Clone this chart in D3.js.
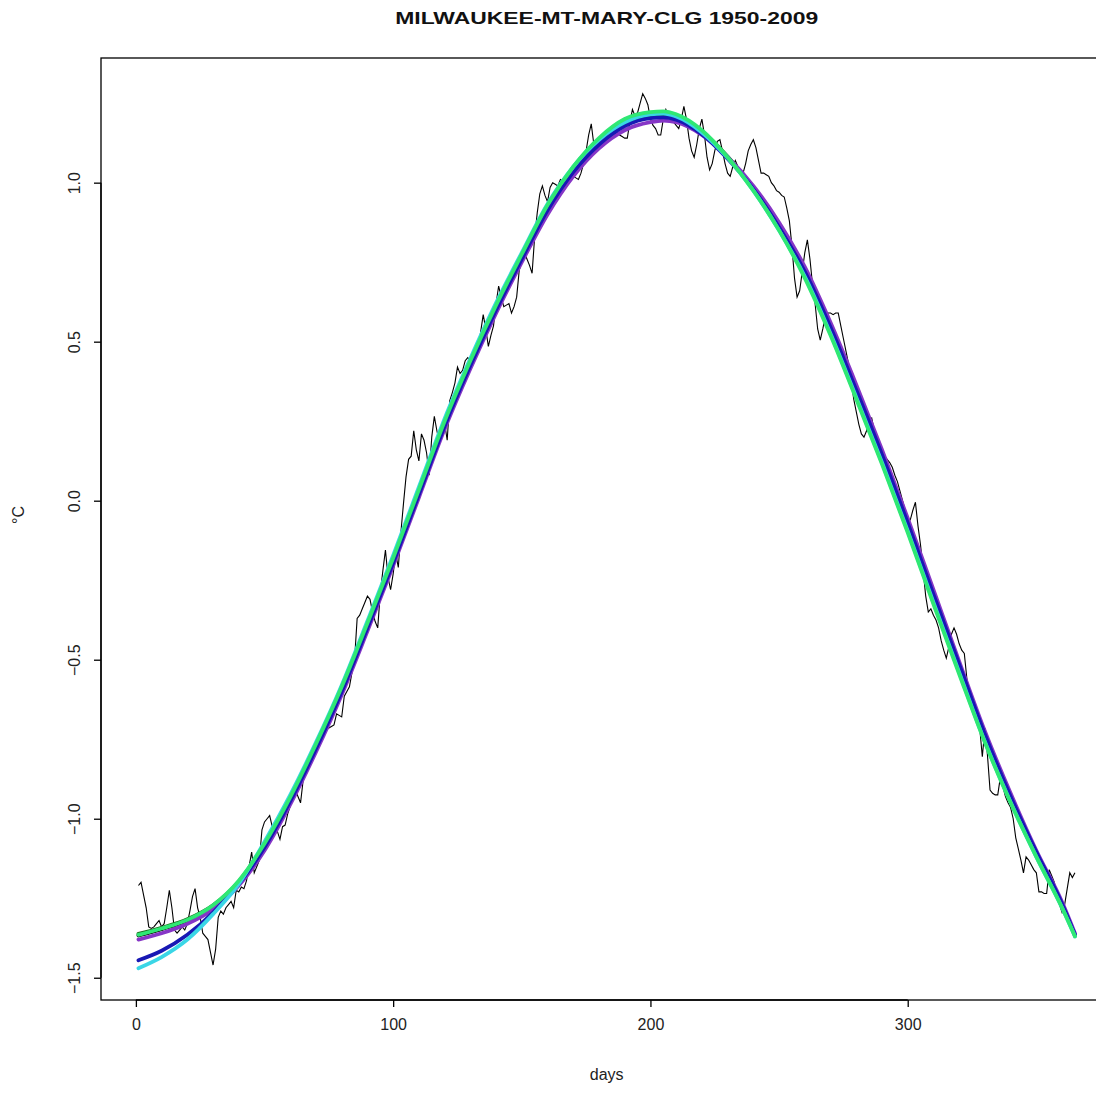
<!DOCTYPE html>
<html>
<head>
<meta charset="utf-8">
<script src="https://cdn.jsdelivr.net/npm/d3@7"></script>
<style>
  html, body { margin: 0; padding: 0; background: #fff; }
  svg { display: block; font-family: "Liberation Sans", Arial, sans-serif; }
</style>
</head>
<body>
<svg id="chart" width="1096" height="1096"></svg>
<script>
// ---------------- data ----------------
const title = "MILWAUKEE-MT-MARY-CLG 1950-2009";
const xLabel = "days";
const yLabel = "°C";
const xTicks = [0, 100, 200, 300];
const yTicks = [-1.5, -1.0, -0.5, 0.0, 0.5, 1.0];

// daily (noisy) series, day 1..365
const noisyValues = [
  -1.21,-1.20,-1.24,-1.28,-1.34,-1.345,-1.34,-1.33,-1.32,-1.34,
  -1.33,-1.28,-1.225,-1.28,-1.35,-1.36,-1.35,-1.34,-1.35,-1.33,
  -1.29,-1.245,-1.22,-1.28,-1.31,-1.36,-1.37,-1.38,-1.42,-1.46,
  -1.41,-1.31,-1.29,-1.30,-1.28,-1.27,-1.26,-1.28,-1.225,-1.23,
  -1.215,-1.22,-1.195,-1.15,-1.105,-1.17,-1.15,-1.13,-1.035,-1.01,
  -1.00,-0.99,-1.025,-1.03,-1.04,-1.065,-1.025,-1.02,-0.985,-0.96,
  -0.93,-0.91,-0.93,-0.95,-0.88,-0.86,-0.835,-0.82,-0.805,-0.79,
  -0.77,-0.755,-0.73,-0.72,-0.715,-0.71,-0.705,-0.67,-0.675,-0.68,
  -0.615,-0.60,-0.585,-0.54,-0.50,-0.37,-0.36,-0.34,-0.32,-0.30,
  -0.31,-0.35,-0.38,-0.40,-0.29,-0.22,-0.155,-0.24,-0.28,-0.23,
  -0.165,-0.21,-0.10,-0.01,0.075,0.13,0.14,0.22,0.16,0.125,
  0.21,0.19,0.15,0.08,0.20,0.265,0.22,0.18,0.22,0.245,
  0.19,0.315,0.34,0.37,0.42,0.40,0.41,0.44,0.45,0.44,
  0.43,0.45,0.48,0.53,0.585,0.54,0.485,0.52,0.55,0.62,
  0.675,0.64,0.61,0.615,0.62,0.59,0.61,0.64,0.725,0.75,
  0.78,0.76,0.74,0.715,0.83,0.905,0.965,0.99,0.96,0.94,
  0.985,1.00,0.995,0.99,1.01,1.005,1.0,1.01,1.02,1.02,
  1.015,1.01,1.03,1.06,1.10,1.15,1.185,1.12,1.13,1.13,
  1.135,1.14,1.13,1.14,1.145,1.15,1.16,1.15,1.145,1.14,
  1.14,1.19,1.23,1.21,1.22,1.25,1.28,1.265,1.245,1.20,
  1.18,1.17,1.15,1.15,1.20,1.23,1.21,1.20,1.19,1.18,
  1.17,1.20,1.24,1.20,1.14,1.10,1.08,1.12,1.17,1.20,
  1.15,1.08,1.04,1.06,1.10,1.13,1.135,1.10,1.06,1.03,
  1.02,1.05,1.07,1.05,1.03,1.03,1.06,1.10,1.12,1.135,
  1.11,1.07,1.03,1.03,1.025,1.02,1.00,0.99,0.975,0.97,
  0.96,0.955,0.92,0.88,0.80,0.70,0.64,0.66,0.72,0.78,
  0.82,0.76,0.68,0.62,0.54,0.505,0.54,0.58,0.59,0.59,
  0.585,0.59,0.59,0.55,0.51,0.47,0.43,0.38,0.32,0.28,
  0.24,0.21,0.20,0.22,0.25,0.26,0.22,0.18,0.17,0.16,
  0.14,0.13,0.12,0.105,0.08,0.06,0.03,0.0,-0.03,-0.07,
  -0.06,-0.03,-0.005,-0.08,-0.14,-0.22,-0.30,-0.35,-0.34,-0.36,
  -0.375,-0.40,-0.44,-0.47,-0.495,-0.46,-0.42,-0.40,-0.42,-0.45,
  -0.47,-0.48,-0.56,-0.60,-0.64,-0.67,-0.70,-0.715,-0.805,-0.715,
  -0.80,-0.91,-0.92,-0.925,-0.925,-0.87,-0.90,-0.93,-0.95,-0.965,
  -1.0,-1.06,-1.095,-1.13,-1.17,-1.12,-1.13,-1.145,-1.16,-1.17,
  -1.23,-1.23,-1.235,-1.235,-1.16,-1.18,-1.20,-1.24,-1.27,-1.295,
  -1.27,-1.22,-1.17,-1.185,-1.17
];
const noisyDays = noisyValues.map((v, i) => i + 1);

// smooth fitted curves, sampled at these days
const curveDays = [1,10,20,30,40,50,60,70,80,90,100,110,120,130,140,150,160,170,180,190,200,205,210,220,230,240,250,260,270,280,290,300,310,320,330,340,350,360,365];

const fitBlack = [-1.367,-1.347,-1.32,-1.275,-1.2,-1.085,-0.94,-0.775,-0.595,-0.395,-0.19,0.025,0.24,0.43,0.605,0.765,0.918,1.038,1.125,1.183,1.207,1.21,1.203,1.157,1.08,0.983,0.865,0.725,0.55,0.35,0.148,-0.068,-0.293,-0.515,-0.735,-0.93,-1.108,-1.27,-1.366];
const fitDarkGreen = [-1.362,-1.343,-1.316,-1.272,-1.197,-1.082,-0.937,-0.772,-0.592,-0.392,-0.187,0.028,0.243,0.433,0.608,0.768,0.922,1.042,1.13,1.19,1.215,1.218,1.21,1.162,1.082,0.983,0.862,0.72,0.543,0.343,0.14,-0.075,-0.3,-0.522,-0.742,-0.935,-1.11,-1.272,-1.367];
const fitPurple = [-1.38,-1.36,-1.33,-1.285,-1.21,-1.1,-0.955,-0.79,-0.61,-0.41,-0.205,0.01,0.225,0.415,0.59,0.75,0.9,1.02,1.108,1.165,1.19,1.195,1.19,1.15,1.08,0.99,0.875,0.735,0.56,0.365,0.16,-0.055,-0.28,-0.505,-0.725,-0.92,-1.1,-1.262,-1.36];
const fitBlue = [-1.445,-1.415,-1.365,-1.295,-1.205,-1.09,-0.945,-0.78,-0.6,-0.4,-0.195,0.02,0.235,0.425,0.6,0.76,0.913,1.033,1.12,1.178,1.203,1.205,1.198,1.152,1.075,0.98,0.86,0.72,0.545,0.348,0.145,-0.07,-0.295,-0.515,-0.735,-0.93,-1.105,-1.268,-1.365];
const fitCyan = [-1.47,-1.435,-1.38,-1.30,-1.205,-1.072,-0.925,-0.76,-0.58,-0.378,-0.172,0.043,0.258,0.447,0.622,0.78,0.933,1.05,1.135,1.19,1.215,1.217,1.208,1.158,1.078,0.975,0.85,0.705,0.525,0.325,0.12,-0.095,-0.32,-0.54,-0.758,-0.948,-1.12,-1.28,-1.37];
const fitGreen = [-1.365,-1.345,-1.318,-1.272,-1.195,-1.078,-0.932,-0.765,-0.585,-0.385,-0.18,0.035,0.25,0.44,0.615,0.775,0.93,1.05,1.14,1.2,1.222,1.224,1.215,1.165,1.08,0.975,0.85,0.70,0.52,0.32,0.115,-0.10,-0.325,-0.545,-0.76,-0.95,-1.12,-1.28,-1.37];

const fitSeries = [
  { values: fitBlack,     color: "#000000" },
  { values: fitDarkGreen, color: "#1e6e1e" },
  { values: fitPurple,    color: "#8636c6" },
  { values: fitBlue,      color: "#1818b4" },
  { values: fitCyan,      color: "#3ad6e6" },
  { values: fitGreen,     color: "#2fe874" }
];

// ---------------- layout ----------------
const svg = d3.select("#chart");
const box = { left: 101, right: 1112.4, top: 58, bottom: 1000 };

const x = d3.scaleLinear().domain([-13.56, 379.56]).range([box.left, box.right]);
const y = d3.scaleLinear().domain([-1.57, 1.392]).range([box.bottom, box.top]);

// clip for the plot region
svg.append("defs").append("clipPath").attr("id", "plotclip")
  .append("rect").attr("x", box.left).attr("y", box.top)
  .attr("width", box.right - box.left).attr("height", box.bottom - box.top);

const plot = svg.append("g").attr("clip-path", "url(#plotclip)");

// noisy daily line
const noisyLine = d3.line().x((d, i) => x(noisyDays[i])).y(d => y(d));
plot.append("path")
  .datum(noisyValues)
  .attr("d", noisyLine)
  .attr("fill", "none")
  .attr("stroke", "#000")
  .attr("stroke-width", 1.1)
  .attr("stroke-linejoin", "miter");

// fitted curves
const fitLine = d3.line().x((d, i) => x(curveDays[i])).y(d => y(d)).curve(d3.curveMonotoneX);
fitSeries.forEach(s => {
  plot.append("path")
    .datum(s.values)
    .attr("d", fitLine)
    .attr("fill", "none")
    .attr("stroke", s.color)
    .attr("stroke-width", 3.8)
    .attr("stroke-linecap", "round");
});

// box
svg.append("rect")
  .attr("x", box.left).attr("y", box.top)
  .attr("width", box.right - box.left).attr("height", box.bottom - box.top)
  .attr("fill", "none").attr("stroke", "#000").attr("stroke-width", 1.3);

// x axis
const xAxis = d3.axisBottom(x).tickValues(xTicks).tickSize(7).tickPadding(12).tickFormat(d3.format("d"));
const gx = svg.append("g").attr("transform", `translate(0,${box.bottom})`).call(xAxis);
gx.select(".domain").attr("d", `M${x(xTicks[0])},0H${x(xTicks[xTicks.length-1])}`).attr("stroke-width", 1.3);
gx.selectAll(".tick line").attr("stroke-width", 1.3);
gx.selectAll(".tick text").attr("font-size", 16).attr("fill", "#222")
  .attr("font-family", "Liberation Sans, Arial, sans-serif");

// y axis
const yAxis = d3.axisLeft(y).tickValues(yTicks).tickSize(7).tickFormat(d3.format(".1f"));
const gy = svg.append("g").attr("transform", `translate(${box.left},0)`).call(yAxis);
gy.select(".domain").attr("d", `M0,${y(yTicks[0])}V${y(yTicks[yTicks.length-1])}`).attr("stroke-width", 1.3);
gy.selectAll(".tick line").attr("stroke-width", 1.3);
gy.selectAll(".tick text")
  .attr("font-size", 16).attr("fill", "#222")
  .attr("font-family", "Liberation Sans, Arial, sans-serif")
  .attr("x", null).attr("dy", null)
  .attr("text-anchor", "middle")
  .attr("transform", "translate(-21,0) rotate(-90)");

// title
svg.append("text")
  .attr("x", (box.left + box.right) / 2)
  .attr("y", 24)
  .attr("text-anchor", "middle")
  .attr("font-size", 17)
  .attr("font-weight", "bold")
  .attr("textLength", 423)
  .attr("lengthAdjust", "spacingAndGlyphs")
  .attr("fill", "#111")
  .text(title);

// axis labels
svg.append("text")
  .attr("x", (box.left + box.right) / 2)
  .attr("y", 1080)
  .attr("text-anchor", "middle")
  .attr("font-size", 16)
  .attr("fill", "#222")
  .text(xLabel);

svg.append("text")
  .attr("transform", `translate(24,${(box.top + box.bottom) / 2 - 14}) rotate(-90)`)
  .attr("text-anchor", "middle")
  .attr("font-size", 16)
  .attr("fill", "#222")
  .text(yLabel);
</script>
</body>
</html>
